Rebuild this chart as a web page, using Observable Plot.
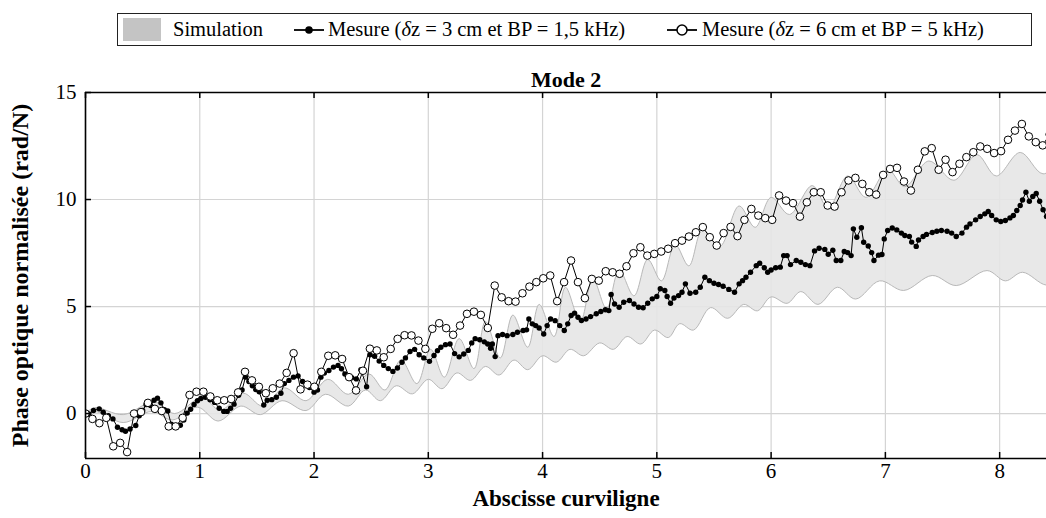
<!DOCTYPE html>
<html><head><meta charset="utf-8">
<script src="https://cdn.jsdelivr.net/npm/d3@7"></script>
<script src="https://cdn.jsdelivr.net/npm/@observablehq/plot@0.6"></script>
<style>
body{margin:0;background:#fff;font-family:'Liberation Serif',serif;color:#000;}
#wrap{width:1046px;}
#legend{position:relative;height:56px;width:1046px;}
#lbox{position:absolute;left:117px;top:13px;width:915px;height:33px;border:1px solid #222;box-sizing:border-box;font-size:20.5px;}
#lbox .it{position:absolute;top:0;height:31px;line-height:31px;white-space:nowrap;}
#lbox .sw{position:absolute;left:5px;top:4px;width:38px;height:23px;background:#c4c4c4;}
#lbox svg{position:absolute;top:5px;}
#chart svg, #chart svg text{font-family:'Liberation Serif',serif;}
</style></head>
<body><div id="wrap">
<div id="legend"><div id="lbox">
 <div class="sw"></div>
 <div class="it" style="left:55px">Simulation</div>
 <svg style="left:175px" width="32" height="22"><line x1="1" y1="11" x2="31" y2="11" stroke="#000" stroke-width="1.8"/><circle cx="16" cy="11" r="3.8" fill="#000"/></svg>
 <div class="it" style="left:210px">Mesure (<i>δ</i>z = 3 cm et BP = 1,5 kHz)</div>
 <svg style="left:548px" width="32" height="22"><line x1="1" y1="11" x2="31" y2="11" stroke="#000" stroke-width="1.8"/><circle cx="16" cy="11" r="5" fill="#fff" stroke="#000" stroke-width="1.5"/></svg>
 <div class="it" style="left:584px">Mesure (<i>δ</i>z = 6 cm et BP = 5 kHz)</div>
</div></div>
<div id="chart"></div>
</div>
<script>
// ---- data ----
const xTicks = [0,1,2,3,4,5,6,7,8];
const yTicks = [0,5,10,15];
const xDomain = [0, 8.41];
const yDomain = [-2.1, 15];

// Simulation band : upper boundary extrema
const upperX = [0,0.08,0.33,0.6,0.78,1.02,1.18,1.38,1.55,1.74,1.93,2.12,2.3,2.48,2.62,2.76,2.9,3.02,3.14,3.27,3.4,3.5,3.63,3.74,3.87,3.97,4.1,4.2,4.33,4.44,4.56,4.67,4.8,4.92,5.04,5.16,5.28,5.4,5.55,5.72,5.86,6.0,6.16,6.36,6.5,6.67,6.83,7.02,7.17,7.38,7.6,7.8,7.97,8.18,8.38,8.6];
const upperY = [0,0.28,-0.05,0.55,0.0,0.75,0.15,0.95,0.35,1.2,0.6,1.6,0.9,1.85,1.1,2.5,1.4,3.0,1.7,3.5,2.1,4.3,2.6,4.6,3.1,5.1,3.6,5.9,4.3,6.3,4.9,6.7,5.5,7.2,6.2,7.9,6.9,8.6,7.8,9.7,8.7,10.1,9.3,10.65,9.6,11.1,10.1,11.4,10.6,11.8,10.9,12.1,11.1,12.2,11.2,12.0];
// Simulation band : lower boundary extrema
const lowerX = [0,0.1,0.33,0.58,0.76,0.98,1.16,1.36,1.53,1.72,1.93,2.1,2.3,2.45,2.58,2.72,2.86,3.0,3.12,3.25,3.37,3.5,3.62,3.75,3.87,4.0,4.12,4.24,4.36,4.5,4.62,4.74,4.86,4.98,5.1,5.2,5.32,5.47,5.62,5.76,5.88,6.0,6.14,6.26,6.41,6.58,6.74,6.95,7.16,7.41,7.62,7.89,8.05,8.2,8.41,8.6];
const lowerY = [0,0.08,-0.42,0.1,-0.3,0.3,-0.35,0.35,-0.05,0.6,0.14,0.9,0.35,1.1,0.6,1.3,0.92,1.6,1.16,1.9,1.55,2.2,1.8,2.5,2.05,2.7,2.4,3.0,2.7,3.3,3.0,3.6,3.25,3.9,3.55,4.2,3.9,4.95,4.45,5.1,4.8,5.45,5.15,5.7,5.1,5.9,5.35,6.2,5.75,6.45,5.98,6.68,6.2,6.6,6.0,6.3];

// Mesure dz = 3 cm, BP = 1,5 kHz  [abscisse, phase]
const mesure1 = [
[0,0],[0.03,-0.02],[0.07,0.14],[0.12,0.22],[0.155,0.06],[0.2,-0.1],[0.24,-0.25],[0.28,-0.64],[0.32,-0.76],[0.35,-0.83],
[0.39,-0.72],[0.44,-0.56],[0.47,-0.1],[0.5,0.14],[0.53,0.42],[0.57,0.38],[0.6,0.62],[0.63,0.72],[0.66,0.5],[0.69,0.18],
[0.72,0.12],[0.75,-0.5],[0.79,-0.6],[0.83,-0.55],[0.86,-0.3],[0.89,0.02],[0.92,0.2],[0.95,0.42],[0.98,0.6],[1.01,0.7],
[1.05,0.76],[1.09,0.64],[1.13,0.52],[1.17,0.25],[1.21,0.1],[1.24,0.1],[1.27,0.25],[1.3,0.44],[1.34,0.85],[1.37,1.1],
[1.4,1.7],[1.43,1.5],[1.46,1.3],[1.49,1.12],[1.52,1.02],[1.56,0.4],[1.59,0.62],[1.63,0.65],[1.67,0.76],[1.71,0.95],
[1.74,1.4],[1.78,1.55],[1.82,1.7],[1.86,1.76],[1.9,1.5],[1.93,1.4],[1.96,1.22],[2.0,1.0],[2.03,1.1],[2.06,1.7],
[2.09,1.89],[2.13,2.01],[2.17,2.17],[2.21,2.25],[2.24,2.09],[2.27,1.85],[2.3,1.7],[2.33,1.67],[2.37,1.62],[2.41,2.05],
[2.46,1.25],[2.49,2.75],[2.53,2.68],[2.57,2.45],[2.61,2.25],[2.65,2.1],[2.69,1.97],[2.73,2.13],[2.77,2.4],[2.8,2.6],
[2.84,2.9],[2.88,3.0],[2.92,2.75],[2.96,2.6],[3.01,2.44],[3.05,2.71],[3.08,2.94],[3.11,3.1],[3.15,3.22],[3.19,3.25],
[3.23,2.8],[3.27,2.65],[3.31,2.78],[3.35,2.95],[3.38,3.3],[3.41,3.5],[3.45,3.45],[3.49,3.35],[3.52,3.25],[3.545,3.05],
[3.56,3.25],[3.585,2.66],[3.61,3.64],[3.65,3.69],[3.69,3.64],[3.74,3.69],[3.78,3.8],[3.83,3.88],[3.86,3.91],[3.88,4.42],
[3.91,4.19],[3.94,4.11],[3.97,4.0],[4.01,3.72],[4.04,4.11],[4.07,4.42],[4.11,4.34],[4.15,4.11],[4.19,3.88],[4.22,4.19],
[4.25,4.58],[4.28,4.69],[4.31,4.5],[4.34,4.35],[4.38,4.42],[4.42,4.53],[4.47,4.66],[4.51,4.77],[4.55,4.85],[4.58,4.81],
[4.6,5.56],[4.63,5.12],[4.67,4.97],[4.71,5.2],[4.76,5.28],[4.8,5.12],[4.84,4.97],[4.88,4.94],[4.92,5.15],[4.96,5.36],
[5.0,5.47],[5.03,5.83],[5.07,5.75],[5.09,5.47],[5.12,5.15],[5.15,5.4],[5.19,5.51],[5.22,5.67],[5.25,6.06],[5.29,5.62],
[5.34,5.67],[5.38,5.9],[5.42,6.37],[5.46,6.21],[5.5,6.09],[5.54,6.03],[5.58,5.95],[5.63,5.8],[5.68,5.67],[5.72,6.06],
[5.75,6.21],[5.78,6.37],[5.82,6.6],[5.87,6.91],[5.9,7.02],[5.94,6.81],[5.97,6.6],[6.0,6.71],[6.04,6.81],[6.08,6.84],
[6.11,7.38],[6.14,7.38],[6.17,6.96],[6.22,7.15],[6.26,7.07],[6.3,6.96],[6.34,6.91],[6.38,7.6],[6.42,7.72],[6.47,7.67],
[6.5,7.44],[6.54,7.63],[6.57,7.15],[6.61,7.15],[6.64,7.57],[6.67,7.52],[6.7,7.38],[6.72,8.63],[6.75,8.24],[6.79,8.68],
[6.81,8.0],[6.85,7.83],[6.88,7.52],[6.9,7.15],[6.94,7.4],[6.97,7.43],[6.99,8.16],[7.02,8.55],[7.06,8.67],[7.1,8.58],
[7.14,8.43],[7.17,8.32],[7.21,8.27],[7.23,8.01],[7.27,7.81],[7.29,8.11],[7.33,8.27],[7.36,8.37],[7.41,8.46],[7.45,8.52],
[7.49,8.55],[7.54,8.52],[7.58,8.43],[7.62,8.27],[7.67,8.43],[7.71,8.71],[7.74,8.86],[7.79,9.05],[7.83,9.21],[7.87,9.33],
[7.9,9.44],[7.93,9.25],[7.97,9.05],[8.01,8.97],[8.05,9.02],[8.09,9.14],[8.12,9.25],[8.15,9.49],[8.18,9.72],[8.2,9.98],
[8.23,10.34],[8.26,9.92],[8.29,10.14],[8.32,10.28],[8.35,9.92],[8.38,9.52],[8.41,9.21],[8.44,9.0]
];

// Mesure dz = 6 cm, BP = 5 kHz : one sample every 0.0607 m
const mesure2Step = 0.0607;
const mesure2 = [
0,-0.25,-0.45,-0.2,-1.53,-1.37,-1.8,0.0,0.07,0.5,
0.22,0.12,-0.6,-0.6,-0.2,0.87,1.02,1.02,0.8,0.62,
0.62,0.68,0.99,1.95,1.55,1.25,0.95,1.18,1.4,1.9,
2.82,1.13,1.35,1.25,1.95,2.7,2.72,2.55,1.7,1.08,
2.0,3.03,2.95,2.63,3.02,3.49,3.66,3.65,3.41,3.02,
3.96,4.22,3.99,3.68,4.11,4.66,4.76,4.61,4.0,5.98,
5.43,5.25,5.23,5.62,5.93,6.14,6.32,6.45,5.25,6.14,
7.15,6.14,5.39,6.29,6.21,6.65,6.6,6.53,6.88,7.49,
7.77,7.38,7.46,7.57,7.7,7.96,8.08,8.27,8.47,8.71,
8.24,7.85,8.43,8.72,8.29,9.05,9.56,9.25,9.13,9.05,
10.19,9.95,9.83,9.2,9.87,10.34,10.34,9.72,9.67,10.34,
10.89,11.01,10.73,10.34,10.23,11.15,11.43,11.48,10.84,10.42,
11.39,12.25,12.4,11.39,11.86,11.28,11.67,11.98,12.21,12.48,
12.37,12.17,12.26,12.79,13.22,13.53,12.95,12.68,12.53,13.04
];

// ---- build ----
const band = [
  ...upperX.map((x, i) => ({x, y: upperY[i]})),
  ...lowerX.map((x, i) => ({x, y: lowerY[i]})).reverse()
];
const m1 = mesure1.map(([x, y]) => ({x, y}));
const m2 = mesure2.map((y, i) => ({x: i * mesure2Step, y}));
const FONT = "'Liberation Serif', serif";

const chart = Plot.plot({
  width: 1046,
  height: 462,
  marginTop: 36,
  marginBottom: 60,
  marginLeft: 85,
  marginRight: 0,
  style: {fontFamily: FONT, fontSize: "20px", color: "#000", background: "#fff"},
  x: {domain: xDomain},
  y: {domain: yDomain},
  marks: [
    Plot.gridX(xTicks, {stroke: "#d4d4d4", strokeOpacity: 1, strokeWidth: 1.2}),
    Plot.gridY(yTicks, {stroke: "#d4d4d4", strokeOpacity: 1, strokeWidth: 1.2}),
    Plot.line(band, {x: "x", y: "y", fill: "#e6e6e6", fillOpacity: 0.9, stroke: "#b8b8b8", strokeWidth: 1, curve: "catmull-rom", clip: true}),
    Plot.line(m1, {x: "x", y: "y", stroke: "#000", strokeWidth: 1, clip: true}),
    Plot.dot(m1, {x: "x", y: "y", r: 2.7, fill: "#000", clip: true}),
    Plot.line(m2, {x: "x", y: "y", stroke: "#000", strokeWidth: 1, clip: true}),
    Plot.dot(m2, {x: "x", y: "y", r: 3.8, fill: "#fff", stroke: "#000", strokeWidth: 1, clip: true}),
    // frame lines
    Plot.ruleX([0], {stroke: "#000", strokeWidth: 1.6}),
    Plot.ruleY([yDomain[0]], {stroke: "#000", strokeWidth: 1.6}),
    Plot.ruleY([yDomain[1]], {stroke: "#000", strokeWidth: 1.6}),
    // inward ticks
    Plot.tickX(xTicks, {x: d => d, insetTop: 360, stroke: "#000", strokeWidth: 1.5}),
    Plot.tickX(xTicks, {x: d => d, insetBottom: 360, stroke: "#000", strokeWidth: 1.5}),
    Plot.tickY(yTicks, {y: d => d, insetRight: 955, stroke: "#000", strokeWidth: 1.5}),
    // tick labels
    Plot.axisX(xTicks, {tickSize: 0, tickPadding: 5, fontSize: 21, tickFormat: d => String(d), label: null}),
    Plot.axisY(yTicks, {tickSize: 0, tickPadding: 9, fontSize: 21, tickFormat: d => String(d), label: null}),
    // titles
    Plot.text(["Mode 2"], {frameAnchor: "top", dy: -6, lineAnchor: "bottom", fontWeight: "bold", fontSize: 22, fontFamily: FONT}),
    Plot.text(["Abscisse curviligne"], {frameAnchor: "bottom", dy: 47, fontWeight: "bold", fontSize: 23, fontFamily: FONT}),
    Plot.text(["Phase optique normalisée (rad/N)"], {frameAnchor: "left", dx: -65, rotate: -90, textAnchor: "middle", fontWeight: "bold", fontSize: 24, fontFamily: FONT})
  ]
});
document.getElementById("chart").appendChild(chart);
</script>
</body></html>
